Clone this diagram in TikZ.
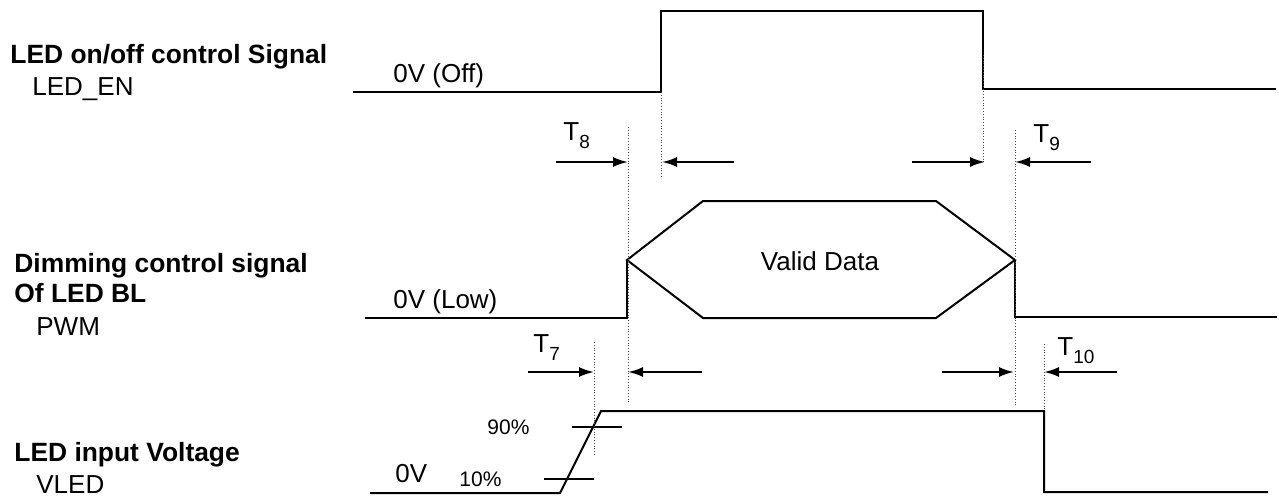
\documentclass[tikz,border=0pt]{standalone}
\usepackage{fontspec}
\setmainfont{Liberation Sans}
\usetikzlibrary{arrows.meta}
\newcommand{\Tsub}[1]{T\raisebox{-4pt}{\fontsize{9.5}{10}\selectfont #1}}

\begin{document}
\begin{tikzpicture}[
  x=0.5pt, y=-0.5pt,
  sig/.style={line width=1pt, line join=miter},
  guide/.style={densely dotted, line width=0.4pt, black!70},
  dimarrow/.style={line width=1pt, -{Latex[length=7.5pt, width=5pt]}},
  title/.style={font=\fontsize{13.2}{15}\selectfont\bfseries, anchor=base west, inner sep=0pt},
  txt/.style={font=\fontsize{13}{15}\selectfont, anchor=base west, inner sep=0pt},
  pct/.style={font=\fontsize{10.5}{12}\selectfont, anchor=base west, inner sep=0pt}
]
\useasboundingbox (0,0) rectangle (1279,499);

% signal names
\node[title] (enname)  at (10,63)  {LED on/off control Signal};
\node[txt]   (enid)    at (32,95)  {LED\_EN};
\node[title] (dimname) at (14,272) {Dimming control signal};
\node[title] (dimof)   at (14,302) {Of LED BL};
\node[txt]   (dimid)   at (36,335) {PWM};
\node[title] (vname)   at (14,461) {LED input Voltage};
\node[txt]   (vid)     at (36,493) {VLED};

% waveforms
\draw[sig] (353,92) -- (661,92) -- (661,11) -- (983,11) -- (983,89) -- (1276,89);
\draw[sig] (365,318) -- (627,318) -- (627,260);
\draw[sig] (627,260) -- (703,201) -- (936,201) -- (1015,260) -- (936,318) -- (703,318) -- cycle;
\draw[sig] (1015,260) -- (1015,317) -- (1277,317);
\draw[sig] (370,493) -- (560,493) -- (601,411) -- (1044,411) -- (1044,492) -- (1268,492);
\draw[line width=1pt] (572,427) -- (622,427);
\draw[line width=1pt] (544,479) -- (594,479);

\node[txt] (enoff)  at (393,82)  {0V (Off)};
\node[txt] (dimlow) at (393,308) {0V (Low)};
\node[txt] (vzero)  at (395,482) {0V};
\node[txt, anchor=base] (valid) at (820,270) {Valid Data};
\node[pct] (p90) at (487,434) {90\%};
\node[pct] (p10) at (459,486) {10\%};

% dotted guides
\foreach \x/\ya/\yb in {661/92/178, 983/55/162, 628/127/402,
                        1015/130/407, 594/342/456, 1044/344/411}
  \draw[guide] (\x,\ya) -- (\x,\yb);

% timing arrows
\foreach \n/\x/\y in {a8/556/162, b8/628/162, c8/734/162, d8/662/162,
                      a9/912/162, b9/985/162, c9/1091/162, d9/1015/162,
                      a7/528/372, b7/594/372, c7/702/372, d7/628/372,
                      a10/942/372, b10/1014/372, c10/1117/372, d10/1044/372}
  \coordinate (\n) at (\x,\y);
\foreach \k in {8,9,7,10} {
  \draw[dimarrow] (a\k) -- (b\k);
  \draw[dimarrow] (c\k) -- (d\k);
}

\node[txt] (t8)  at (563,140)  {\Tsub{8}};
\node[txt] (t9)  at (1033,142) {\Tsub{9}};
\node[txt] (t7)  at (533,352)  {\Tsub{7}};
\node[txt] (t10) at (1057,355) {\Tsub{10}};

\end{tikzpicture}
\end{document}
